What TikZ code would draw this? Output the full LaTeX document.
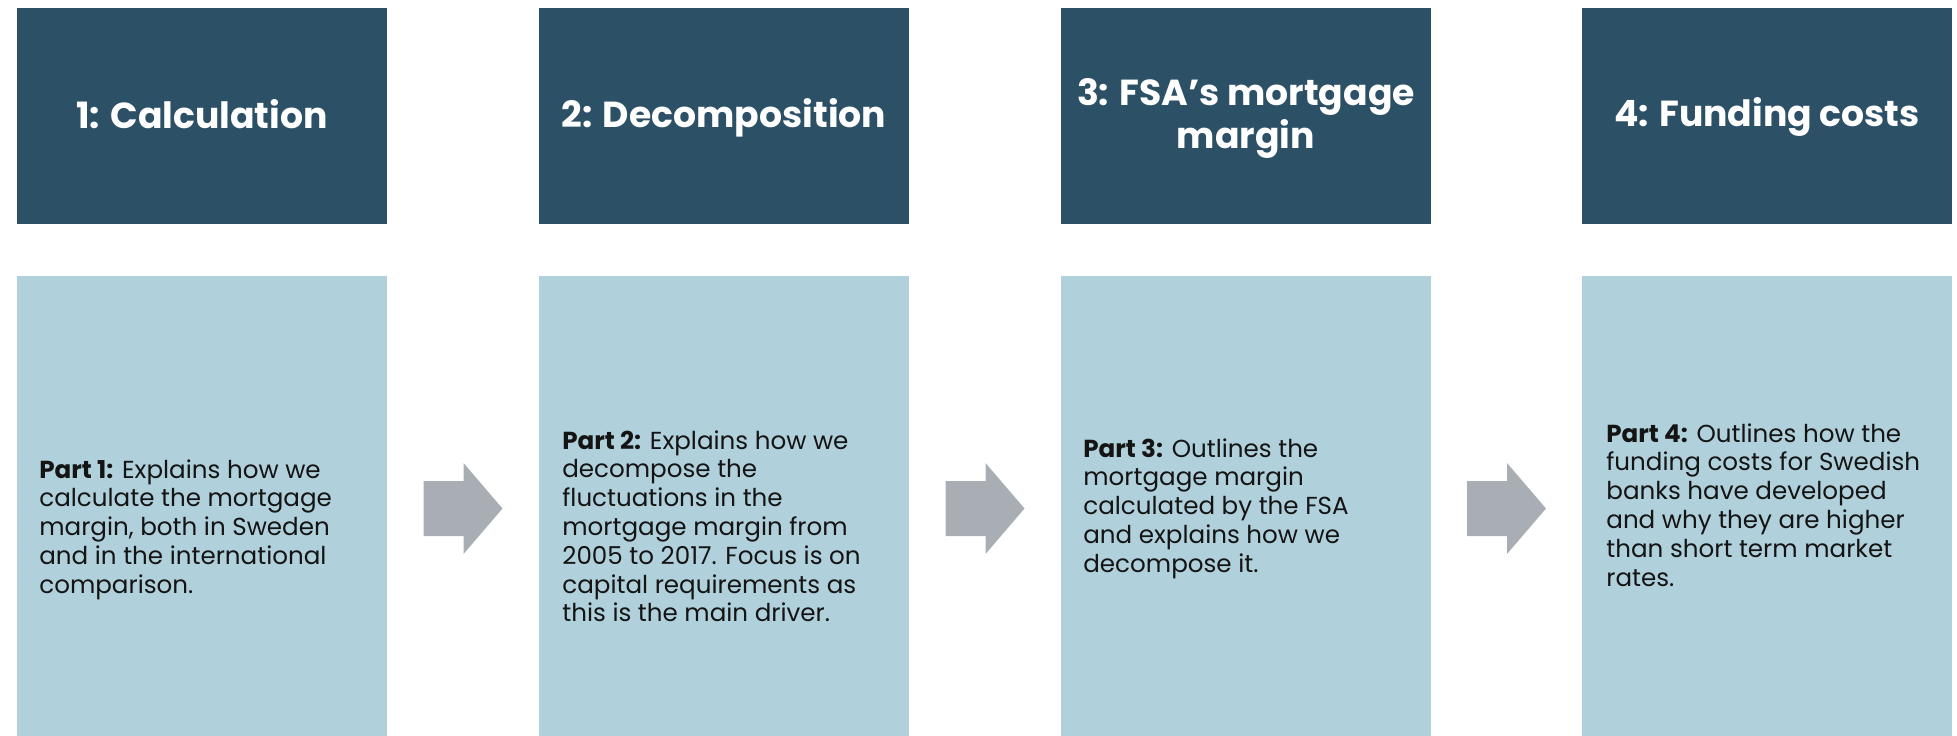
\documentclass[tikz,border=0pt]{standalone}
\usepackage{fontspec}
\setmainfont{Poppins}
\usepackage{tikz}
\usetikzlibrary{calc,positioning}
\definecolor{headBlue}{RGB}{44,80,102}
\definecolor{bodyBlue}{RGB}{176,208,219}
\definecolor{arrowGray}{RGB}{169,174,180}
\definecolor{textBlack}{RGB}{20,20,20}
\newcommand{\headstrut}{\rule[-3.6pt]{0pt}{21.6pt}}

\tikzset{
  headbox/.style={fill=headBlue, minimum width=7.4cm, minimum height=4.32cm,
    inner sep=0pt, align=center, text=white,
    font=\fontsize{20.6}{23.2}\selectfont\bfseries},
  bodybox/.style={fill=bodyBlue, minimum width=7.4cm, minimum height=9.3cm,
    inner sep=0pt},
  bodytext/.style={anchor=north west, inner sep=0pt, align=left, text=textBlack,
    font=\fontsize{14}{16.4}\selectfont},
  flowarrow/.style={fill=arrowGray}
}

\begin{document}
\begin{tikzpicture}[x=0.02cm, y=-0.02cm]
        \useasboundingbox (0,0) rectangle (1957,735);
        % header row
        \node[headbox] (h1) at (202,116) {\headstrut 1: Calculation};
        \node[headbox] (h2) at (724,116) {\headstrut 2: Decomposition};
        \node[headbox] (h3) at (1246,116) {\headstrut 3: FSA’s mortgage\\\headstrut margin};
        \node[headbox] (h4) at (1767,116) {\headstrut 4: Funding costs};
        % body boxes
        \node[bodybox] (b1) at (202,508.5) {};
        \node[bodybox] (b2) at (724,508.5) {};
        \node[bodybox] (b3) at (1246,508.5) {};
        \node[bodybox] (b4) at (1767,508.5) {};
        % body texts
        \node[bodytext] (t1) at (39,459) {\textbf{Part 1:} Explains how we\\calculate the mortgage\\margin, both in Sweden\\and in the international\\comparison.};
        \node[bodytext] (t2) at (562,430) {\textbf{Part 2:} Explains how we\\decompose the\\fluctuations in the\\mortgage margin from\\2005 to 2017. Focus is on\\capital requirements as\\this is the main driver.};
        \node[bodytext] (t3) at (1083,438) {\textbf{Part 3:} Outlines the\\mortgage margin\\calculated by the FSA\\and explains how we\\decompose it.};
        \node[bodytext] (t4) at (1606,423) {\textbf{Part 4:} Outlines how the\\funding costs for Swedish\\banks have developed\\and why they are higher\\than short term market\\rates.};
        % arrows between the boxes
        \foreach \a/\b in {b1/b2,b2/b3,b3/b4}{
          \coordinate (m) at ($(\a.east)!0.5!(\b.west)$);
          \fill[flowarrow] ($(m)+(-39.5,-27.5)$) -- ++(40,0) -- ++(0,-18)
            -- ($(m)+(39.5,0)$) -- ($(m)+(0.5,45.5)$) -- ++(0,-18)
            -- ++(-40,0) -- cycle;
        }
\end{tikzpicture}
\end{document}
